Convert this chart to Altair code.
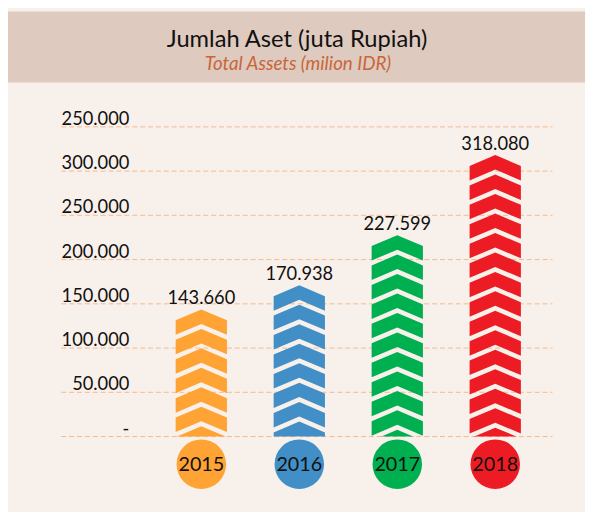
import altair as alt
import pandas as pd

# ---- data ----
years = ["2015", "2016", "2017", "2018"]
assets = [143660, 170938, 227599, 318080]
value_labels = ["143.660", "170.938", "227.599", "318.080"]
colors = ["#FFA335", "#418FC6", "#00B050", "#ED1C24"]
tick_values = [0, 50000, 100000, 150000, 200000, 250000, 300000, 350000]
tick_labels = ["-", "50.000", "100.000", "150.000", "200.000", "250.000", "300.000", "250.000"]
title_text = "Jumlah Aset (juta Rupiah)"
subtitle_text = "Total Assets (milion IDR)"
chevron_step = 22000  # value spacing between chevrons

FONT = "Lato"

bars = pd.DataFrame({"year": years, "value": assets, "label": value_labels})
ticks = pd.DataFrame({"v": tick_values, "t": tick_labels})

chev_rows = []
for y, v in zip(years, assets):
    k = 0
    while v - k * chevron_step > -chevron_step:
        chev_rows.append({"year": y, "tip": v - k * chevron_step})
        k += 1
chev = pd.DataFrame(chev_rows)
header = pd.DataFrame({"title": [title_text], "subtitle": [subtitle_text]})

yscale = alt.Scale(domain=[0, 350000], range=[431, 117])
xenc = alt.X("year:N", scale=alt.Scale(type="point", range=[196, 494], padding=0), axis=None)
cenc = alt.Color("year:N", scale=alt.Scale(domain=years, range=colors), legend=None)

band = alt.Chart(header).mark_rect(color="#DECABE").encode(
    x=alt.value(0), x2=alt.value(585), y=alt.value(0), y2=alt.value(72)
)
title = alt.Chart(header).mark_text(
    font=FONT, fontSize=24, color="#111111", align="center", baseline="alphabetic"
).encode(x=alt.value(293), y=alt.value(36), text="title:N")
subtitle = alt.Chart(header).mark_text(
    font=FONT, fontSize=19, fontStyle="italic", color="#C9653A", align="center", baseline="alphabetic"
).encode(x=alt.value(294), y=alt.value(59), text="subtitle:N")

grid = alt.Chart(ticks).mark_rule(color="#F5BA90", strokeWidth=1, strokeDash=[5, 3]).encode(
    y=alt.Y("v:Q", scale=yscale, axis=None), x=alt.value(54), x2=alt.value(552)
)
ylabels = alt.Chart(ticks).mark_text(
    font=FONT, fontSize=18.5, color="#111111", align="right", baseline="alphabetic", dy=-2
).encode(y=alt.Y("v:Q", scale=yscale, axis=None), x=alt.value(123), text="t:N")

chevrons = alt.Chart(chev).mark_point(
    shape="M0,0L1,0.423L1,0.988L0,0.565L-1,0.988L-1,0.423Z",
    filled=True, size=2704, opacity=1, strokeWidth=0, clip=True
).encode(x=xenc, y=alt.Y("tip:Q", scale=yscale, axis=None), color=cenc)

vlabels = alt.Chart(bars).mark_text(
    font=FONT, fontSize=18.5, color="#111111", align="center", baseline="alphabetic", dy=-5
).encode(x=xenc, y=alt.Y("value:Q", scale=yscale, axis=None), text="label:N")

circles = alt.Chart(bars).mark_circle(size=2520, opacity=1).encode(
    x=xenc, y=alt.value(459), color=cenc
)
ytext = alt.Chart(bars).mark_text(
    font=FONT, fontSize=20, color="#111111", align="center", baseline="middle"
).encode(x=xenc, y=alt.value(460), text="year:N")

chart = alt.layer(
    band, title, subtitle, grid, ylabels, chevrons, vlabels, circles, ytext
).properties(
    width=585, height=431,
    autosize=alt.AutoSizeParams(type="none"),
    padding={"left": 0, "top": 0, "right": 0, "bottom": 73},
    background="#F8F0EA",
).configure_view(stroke=None)

chart.save("out.html", embed_options={"renderer": "svg", "actions": False})
